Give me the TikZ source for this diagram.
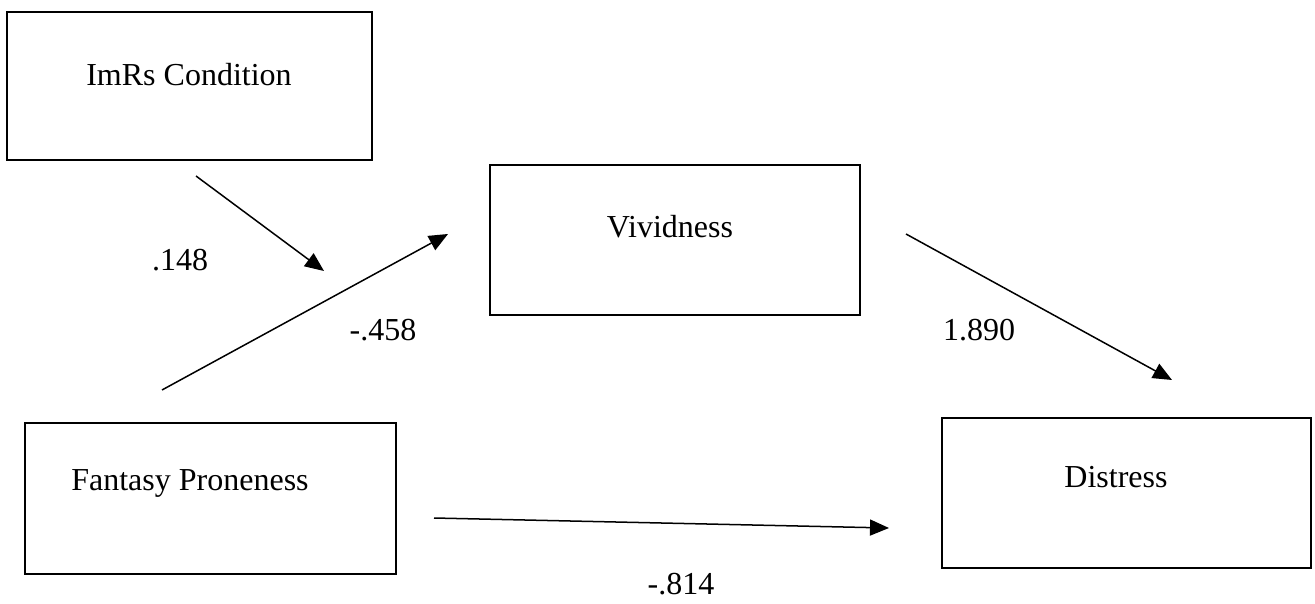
\documentclass[tikz,border=0pt]{standalone}
\usepackage{fontspec}
\setmainfont{Liberation Serif}
\usetikzlibrary{arrows.meta}
\tikzset{
  boxnode/.style={draw=black, line width=1.4pt, rectangle, inner sep=0pt},
  lbl/.style={anchor=base, inner sep=0pt, font=\fontsize{16pt}{19pt}\selectfont},
  coef/.style={inner sep=0pt, font=\fontsize{16pt}{19pt}\selectfont},
  conn/.style={line width=0.75pt, -{Triangle[length=9.5pt,width=8pt]}}
}
\begin{document}
\begin{tikzpicture}[x=0.5pt,y=-0.5pt]
\useasboundingbox (0,0) rectangle (1315,604);
% boxes
\node[boxnode, minimum width=182.5pt, minimum height=74pt] (imrs) at (189.5,86) {};
\node[boxnode, minimum width=185pt, minimum height=75pt] (viv) at (675,240) {};
\node[boxnode, minimum width=185.5pt, minimum height=75.5pt] (fant) at (210.5,498.5) {};
\node[boxnode, minimum width=184.5pt, minimum height=75pt] (dist) at (1126.5,493) {};
% texts
\node[lbl] (imrsT) at (189,86) {ImRs Condition};
\node[lbl] (vivT) at (670,237) {Vividness};
\node[lbl] (fantT) at (190,490) {Fantasy Proneness};
\node[lbl] (distT) at (1116,487) {Distress};
% connector ends
\coordinate (a1s) at (196,176);
\coordinate (a1e) at (324,271);
\coordinate (a2s) at (162,390);
\coordinate (a2e) at (448,234);
\coordinate (a3s) at (906,234);
\coordinate (a3e) at (1172,380);
\coordinate (a4s) at (434,518);
\coordinate (a4e) at (889,528);
\draw[conn] (a1s) -- (a1e);
\draw[conn] (a2s) -- (a2e);
\draw[conn] (a3s) -- (a3e);
\draw[conn] (a4s) -- (a4e);
% coefficients
\node[coef] (c1) at (180,260) {.148};
\node[coef] (c2) at (383,330) {-.458};
\node[coef] (c3) at (979,330) {1.890};
\node[coef] (c4) at (681,584) {-.814};
\end{tikzpicture}
\end{document}
